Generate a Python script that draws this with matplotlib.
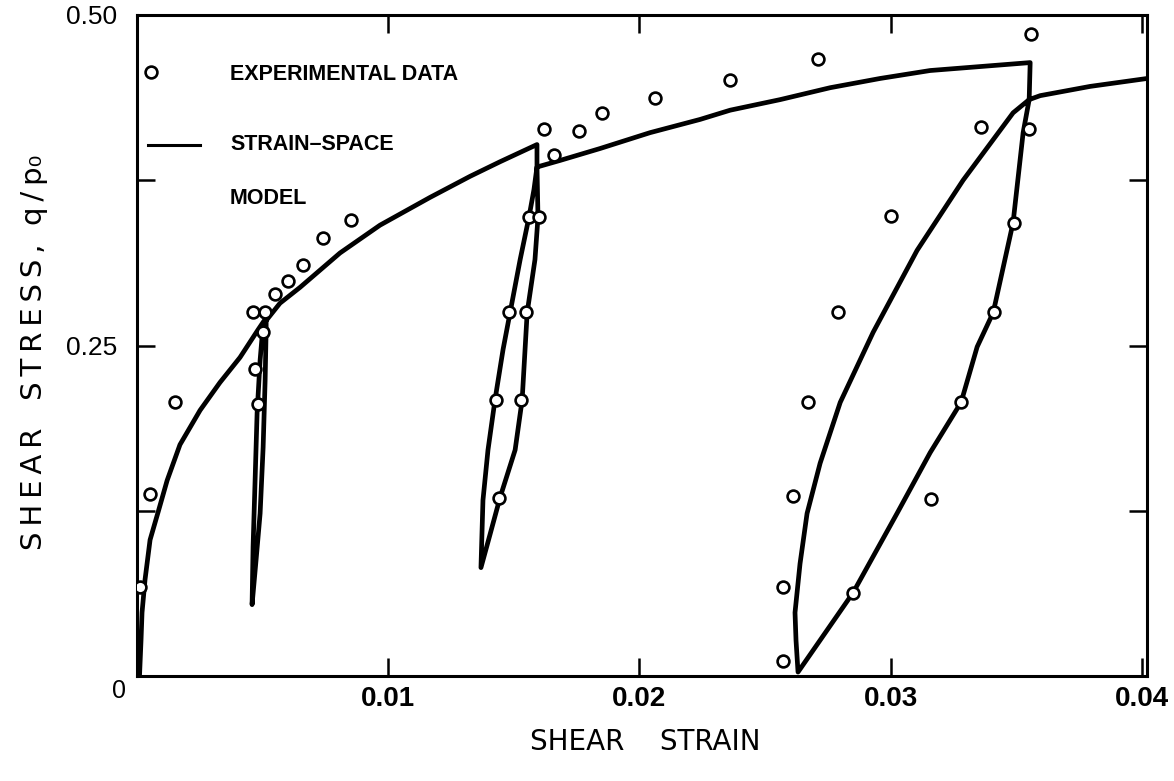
import matplotlib
matplotlib.use("Agg")
import matplotlib.pyplot as plt

# Experimental data points (shear strain, q/p0)
exp_strain = [0.0001, 0.0005, 0.0015,
              0.0046, 0.0051, 0.0050, 0.0047, 0.0048,
              0.0055, 0.0060, 0.0066, 0.0074, 0.0085,
              0.0156, 0.0160, 0.0148, 0.0155, 0.0143, 0.0153, 0.0144,
              0.0162, 0.0166, 0.0176, 0.0185, 0.0206, 0.0236, 0.0271, 0.0356,
              0.0336, 0.0355, 0.0300, 0.0349, 0.0279, 0.0341, 0.0267, 0.0328,
              0.0261, 0.0316, 0.0257, 0.0285, 0.0257]
exp_stress = [0.067, 0.138, 0.207,
              0.275, 0.275, 0.260, 0.232, 0.206,
              0.289, 0.299, 0.311, 0.331, 0.345,
              0.347, 0.347, 0.275, 0.275, 0.209, 0.209, 0.135,
              0.414, 0.394, 0.412, 0.426, 0.437, 0.451, 0.467, 0.486,
              0.415, 0.414, 0.348, 0.343, 0.275, 0.275, 0.207, 0.207,
              0.136, 0.134, 0.067, 0.063, 0.011]

# Strain-space model prediction: virgin loading, three unload/reload loops
model_strain = [0.0001, 0.00016, 0.0002, 0.00032, 0.00052, 0.00084, 0.0012,
                0.00171, 0.00251, 0.0033, 0.0041, 0.00482, 0.00514,
                # loop 1
                0.00514, 0.0051, 0.00502, 0.0049, 0.00474, 0.00458,
                0.00462, 0.0047, 0.00478, 0.0049, 0.00502,
                # envelope
                0.00569, 0.00649, 0.00808, 0.00967, 0.01166, 0.01326, 0.01445, 0.01592,
                # loop 2
                0.01592, 0.01596, 0.01584, 0.01553, 0.01533, 0.01505, 0.01445, 0.01405, 0.01369,
                0.01377, 0.01397, 0.01425, 0.01457, 0.01485, 0.01525, 0.0156, 0.0158, 0.01592,
                # envelope
                0.01684, 0.01843, 0.02042, 0.02241, 0.02361, 0.0256, 0.02759, 0.02958,
                0.03157, 0.03356, 0.03555,
                # loop 3
                0.03551, 0.03527, 0.03487, 0.03408, 0.03344, 0.0328, 0.03157, 0.03025,
                0.0285, 0.02631,
                0.02623, 0.02619, 0.02639, 0.02667, 0.02719, 0.02799, 0.0293, 0.03105,
                0.03288, 0.03487, 0.03551,
                # envelope
                0.03595, 0.03794, 0.04021]
model_stress = [0.0, 0.027, 0.048, 0.073, 0.103, 0.124, 0.148,
                0.175, 0.201, 0.222, 0.241, 0.262, 0.271,
                0.262, 0.224, 0.173, 0.123, 0.088, 0.054,
                0.098, 0.148, 0.199, 0.239, 0.266,
                0.282, 0.294, 0.320, 0.341, 0.362, 0.378, 0.389, 0.402,
                0.385, 0.347, 0.315, 0.275, 0.209, 0.171, 0.135, 0.107, 0.082,
                0.133, 0.171, 0.209, 0.247, 0.275, 0.315, 0.347, 0.368, 0.385,
                0.390, 0.399, 0.411, 0.421, 0.428, 0.436, 0.445, 0.452,
                0.458, 0.461, 0.464,
                0.436, 0.411, 0.343, 0.275, 0.249, 0.207, 0.169, 0.123,
                0.063, 0.003,
                0.027, 0.048, 0.085, 0.123, 0.161, 0.207, 0.260, 0.322,
                0.375, 0.426, 0.436,
                0.439, 0.446, 0.452]

x_ticks = [0.01, 0.02, 0.03, 0.04]
x_tick_labels = ["0.01", "0.02", "0.03", "0.04"]
y_ticks = [0.125, 0.25, 0.375, 0.50]
y_tick_labels = ["", "0.25", "", "0.50"]

tick_font = "Liberation Sans"
thin = "\u2009"

fig = plt.figure(figsize=(11.74, 7.81), dpi=100)
ax = fig.add_axes([0.1167, 0.1344, 0.8603, 0.8464])

ax.plot(model_strain, model_stress, color="black", lw=3.4, solid_joinstyle="round",
        solid_capstyle="round", zorder=2)
ax.plot(exp_strain, exp_stress, linestyle="none", marker="o", ms=8.5,
        mfc="white", mec="black", mew=1.9, zorder=3)

ax.set_xlim(0, 0.0402)
ax.set_ylim(0, 0.5)

ax.set_xticks(x_ticks)
ax.set_xticklabels(x_tick_labels)
ax.set_yticks(y_ticks)
ax.set_yticklabels(y_tick_labels)
ax.tick_params(axis="both", direction="in", length=13, width=1.8,
               top=True, right=True)
ax.tick_params(axis="x", pad=7, labelsize=20)
ax.tick_params(axis="y", pad=14, labelsize=19)
for lab in ax.get_xticklabels():
    lab.set_fontfamily(tick_font)
    lab.set_fontweight("bold")
for lab in ax.get_yticklabels():
    lab.set_fontfamily(tick_font)
for sp in ax.spines.values():
    sp.set_linewidth(2.2)

# origin label shared by both axes
ax.annotate("0", xy=(0, 0), xytext=(-13, -11), textcoords="offset points",
            ha="center", va="center", fontsize=18, fontfamily=tick_font)

ax.set_xlabel("SHEAR    STRAIN", fontsize=20, fontfamily="DejaVu Sans")
ax.xaxis.set_label_coords(0.503, -0.078)
ylabel = (thin.join("SHEAR") + "   " + thin.join("STRESS,") + "  "
          + thin.join("q/p") + "\u2080")
ax.set_ylabel(ylabel, fontsize=21, fontfamily="DejaVu Sans")
ax.yaxis.set_label_coords(-0.088, 0.49)

# in-plot legend
ax.plot([0.00055], [0.457], marker="o", ms=8.5, mfc="white", mec="black", mew=1.9,
        linestyle="none")
ax.plot([0.00045, 0.0025], [0.402, 0.402], color="black", lw=2.2)
legend_kw = dict(fontsize=15.5, fontweight="bold", fontfamily=tick_font,
                 va="center", ha="left")
ax.text(0.0037, 0.455, "EXPERIMENTAL DATA", **legend_kw)
ax.text(0.0037, 0.402, "STRAIN\u2013SPACE", **legend_kw)
ax.text(0.0037, 0.361, "MODEL", **legend_kw)

fig.savefig("out.png", dpi=100, facecolor="white")
